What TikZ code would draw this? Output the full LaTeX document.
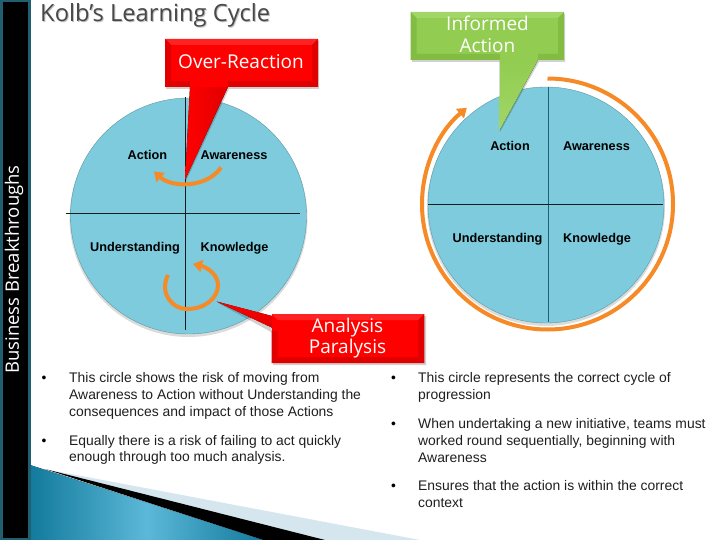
\documentclass[tikz,border=0pt]{standalone}
\usepackage{fontspec}
\setmainfont{Liberation Sans}
\newfontfamily\headfont{Open Sans}
\usetikzlibrary{arrows.meta,calc,fadings}
\definecolor{tealbar}{HTML}{1F5F70}
\definecolor{discfill}{HTML}{7DCBDC}
\definecolor{arcorange}{HTML}{F58A27}
\definecolor{titlegrey}{HTML}{484848}
\definecolor{redbase}{HTML}{FF0000}
\definecolor{redlight}{HTML}{FF2222}
\definecolor{reddark}{HTML}{E00000}
\definecolor{greenbase}{HTML}{92CC50}
\definecolor{greenlight}{HTML}{A2D668}
\definecolor{greendark}{HTML}{82BC42}
\definecolor{paleband}{HTML}{D6E6EF}
\definecolor{tealdeep}{HTML}{127A9C}
\definecolor{tealmid}{HTML}{5CB8D8}
\pgfdeclareradialshading{discshade}{\pgfpoint{0bp}{0bp}}{
  color(0bp)=(discfill); color(43bp)=(discfill); color(48bp)=(discfill!92!black); color(50bp)=(discfill!80!black)}
\tikzset{
  x=1pt,y=-1pt,
  disc/.style={circle,minimum size=236pt,inner sep=0pt,shading=discshade,draw=black!25!discfill,line width=.4pt},
  discshadow/.style={circle,minimum size=238pt,inner sep=0pt,fill=black,opacity=.14},
  axisline/.style={draw=black!85!discfill,line width=.8pt},
  quad/.style={font=\fontsize{12.7}{14}\selectfont\bfseries,text=black,inner sep=0pt,anchor=base},
  cycle/.style={draw=arcorange,line width=4pt,-{Triangle[width=12pt,length=9pt]}},
  bodytext/.style={font=\fontsize{13.9}{16.7}\selectfont,text=black!88,align=left,anchor=north west,inner sep=0pt},
  dotmark/.style={font=\fontsize{13.8}{14}\selectfont,text=black,inner sep=0pt,yshift=-2pt},
  calloutlabel/.style={font=\headfont\fontsize{19}{21.5}\selectfont,text=white,align=center,inner sep=0pt},
}
\begin{document}
\begin{tikzpicture}
\useasboundingbox (0,0) rectangle (720,540);
\fill[white] (0,0) rectangle (720,540);

% bottom decoration
\fill[paleband] (55,471) -- (420,540) -- (300,540) -- cycle;
\fill[black] (45,469) -- (325,540) -- (263,540) -- cycle;
\fill[left color=tealdeep,right color=tealdeep,middle color=tealmid] (30,465) -- (263,540) -- (30,540) -- cycle;

% sidebar
\fill[tealbar] (0,0) rectangle (31,540);
\fill[black] (3,2) rectangle (28,538);
\node[font=\headfont\fontsize{18.5}{20}\selectfont,text=white,rotate=90,inner sep=0pt] (sidebar) at (14,269.5) {Business Breakthroughs};

% title
\node[font=\headfont\fontsize{23.7}{26}\selectfont,text=black!25,anchor=west,inner sep=0pt] (titleshadow) at (41,16.5) {Kolb’s Learning Cycle};
\node[font=\headfont\fontsize{23.7}{26}\selectfont,text=titlegrey,anchor=west,inner sep=0pt] (title) at (40,15.5) {Kolb’s Learning Cycle};

% left disc
\node[discshadow] (leftshadow) at (188.5,218) {};
\node[disc] (leftdisc) at (188.5,216) {};
\coordinate (lt) at (185.5,97);
\coordinate (lb) at (185.5,330);
\coordinate (ll) at (66,213);
\coordinate (lr) at (300,213);
\draw[axisline] (lt) -- (lb);
\draw[axisline] (ll) -- (lr);
\node[quad] (laction) at (147.5,159.5) {Action};
\node[quad] (lawareness) at (234,159.5) {Awareness};
\node[quad] (lunder) at (135,251.5) {Understanding};
\node[quad] (lknow) at (234.5,251.5) {Knowledge};

% small cycles
\coordinate (ra) at (221,167.5);
\coordinate (rb) at (154,171.5);
\draw[cycle] (ra) .. controls (207,188) and (172,188) .. (rb);
\coordinate (pa) at (168,275);
\coordinate (pb) at (187,309);
\coordinate (pc) at (218,285);
\coordinate (pd) at (193,264);
\draw[cycle] (pa) .. controls (159,293) and (172,309) .. (pb) .. controls (205,309) and (218,298) .. (pc) .. controls (218,274) and (206,267) .. (pd);

% right disc
\node[discshadow] (rightshadow) at (546,207) {};
\node[disc] (rightdisc) at (546,205) {};
\coordinate (rt) at (548,87);
\coordinate (rbm) at (548,322);
\coordinate (rl) at (428,204);
\coordinate (rr) at (663,204);
\draw[axisline,draw=tealbar] (rt) -- (rbm);
\draw[axisline] (rl) -- (rr);
\node[quad] (raction) at (510,150.7) {Action};
\node[quad] (rawareness) at (596.5,150.7) {Awareness};
\node[quad] (runder) at (497.5,242.7) {Understanding};
\node[quad] (rknow) at (597,242.7) {Knowledge};

% big cycle
\coordinate (bigcentre) at (547.5,204);
\draw[cycle] ($(bigcentre)+(0,-125.5)$) arc[start angle=-90,end angle=230,radius=125.5];

% Over-Reaction callout
\fill[black,opacity=.18] (166,41) -- (319,41) -- (319,89) -- (229,89) -- (186,181) -- (191,89) -- (166,89) -- cycle;
\fill[left color=redbase,right color=reddark] (190,87) -- (228,87) -- (185,180) -- cycle;
\fill[redbase] (165,39) rectangle (318,87);
\fill[redlight] (165,39) -- (318,39) -- (312,45) -- (171,45) -- cycle;
\fill[reddark] (165,39) -- (171,45) -- (171,81) -- (165,87) -- cycle;
\fill[reddark] (318,39) -- (312,45) -- (312,81) -- (318,87) -- cycle;
\fill[reddark] (165,87) -- (171,81) -- (312,81) -- (318,87) -- cycle;
\fill[redbase] (190,80) -- (228,80) -- (228,87) -- (190,87) -- cycle;
\node[calloutlabel] (overreaction) at (241,61.5) {Over-Reaction};

% Informed Action callout
\fill[black,opacity=.18] (412,14) -- (565,14) -- (565,62) -- (539,62) -- (500,132) -- (501,62) -- (412,62) -- cycle;
\fill[top color=greenbase,bottom color=greenlight] (500,60) -- (538,60) -- (499.5,130.5) -- cycle;
\fill[greenbase] (410.7,12) rectangle (564,60);
\fill[greenlight] (410.7,12) -- (564,12) -- (558,18) -- (416.7,18) -- cycle;
\fill[greendark] (410.7,12) -- (416.7,18) -- (416.7,54) -- (410.7,60) -- cycle;
\fill[greendark] (564,12) -- (558,18) -- (558,54) -- (564,60) -- cycle;
\fill[greendark] (410.7,60) -- (416.7,54) -- (558,54) -- (564,60) -- cycle;
\fill[greenbase] (500,53) -- (538,53) -- (538,60) -- (500,60) -- cycle;
\node[calloutlabel] (informed) at (487.5,34.5) {Informed\\Action};

% Analysis Paralysis callout
\fill[black,opacity=.18] (273,316) -- (426,316) -- (426,365) -- (273,365) -- (273,333) -- (218,303) -- (273,318) -- cycle;
\fill[top color=redbase,bottom color=reddark] (216.5,301.5) -- (272,316) -- (277,330) -- cycle;
\fill[redbase] (271.7,314) rectangle (424.3,363);
\fill[redlight] (271.7,314) -- (424.3,314) -- (418.3,320) -- (277.7,320) -- cycle;
\fill[reddark] (424.3,314) -- (418.3,320) -- (418.3,357) -- (424.3,363) -- cycle;
\fill[reddark] (271.7,331) -- (277.7,331) -- (277.7,357) -- (271.7,363) -- cycle;
\fill[reddark] (271.7,363) -- (277.7,357) -- (418.3,357) -- (424.3,363) -- cycle;
\node[calloutlabel] (analysis) at (347.5,338) {Analysis\\Paralysis};

% left bullets
\node[dotmark] (bl1) at (44,377.5) {•};
\node[bodytext] (tl1) at (69,372.5) {This circle shows the risk of moving from\\Awareness to Action without Understanding the\\consequences and impact of those Actions};
\node[dotmark] (bl2) at (44,440) {•};
\node[bodytext] (tl2) at (69,435) {Equally there is a risk of failing to act quickly\\enough through too much analysis.};

% right bullets
\node[dotmark] (br1) at (393.5,377.5) {•};
\node[bodytext] (tr1) at (418,372.5) {This circle represents the correct cycle of\\progression};
\node[dotmark] (br2) at (393.5,423) {•};
\node[bodytext] (tr2) at (418,418.5) {When undertaking a new initiative, teams must\\worked round sequentially, beginning with\\Awareness};
\node[dotmark] (br3) at (393.5,485.5) {•};
\node[bodytext] (tr3) at (418,480.5) {Ensures that the action is within the correct\\context};
\end{tikzpicture}
\end{document}
